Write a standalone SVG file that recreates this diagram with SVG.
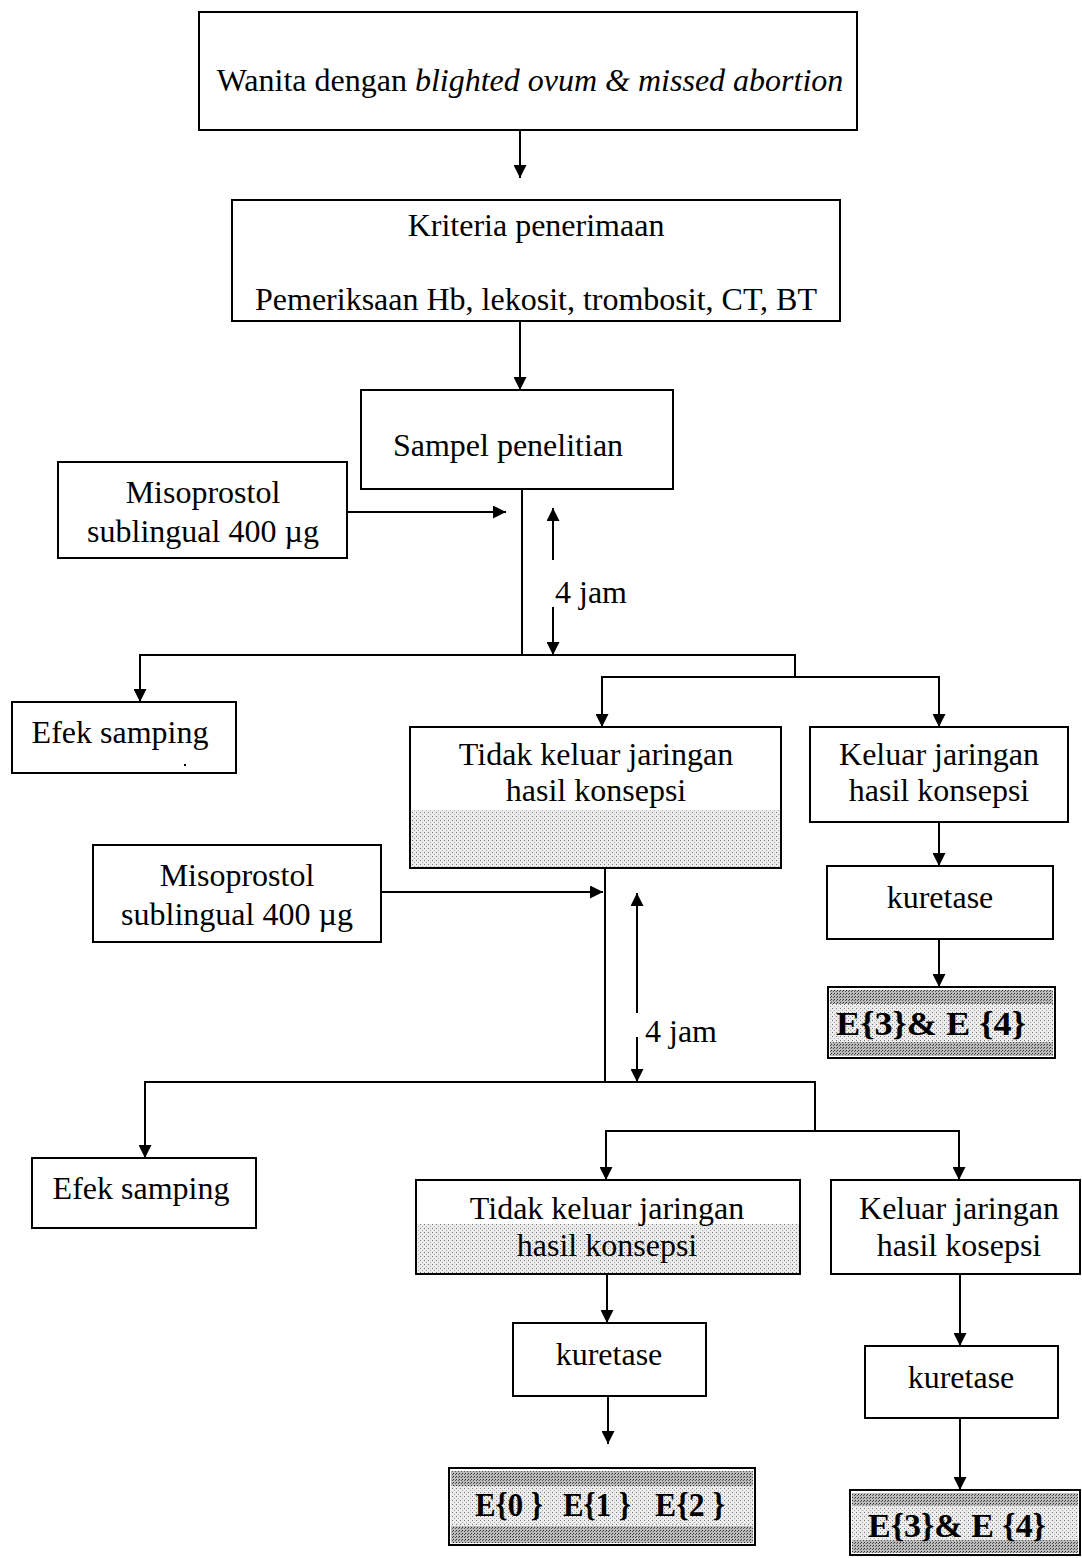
<svg xmlns="http://www.w3.org/2000/svg" width="1082" height="1558" viewBox="0 0 1082 1558">
<style>
.b{fill:#fff;stroke:#000;stroke-width:2}
.t{font-family:"Liberation Serif","Times New Roman",serif;font-size:32px;fill:#000;text-anchor:middle}
.e{font-family:"Liberation Serif","Times New Roman",serif;font-size:34px;font-weight:bold;fill:#000;text-anchor:start}
.c{fill:none;stroke:#000;stroke-width:2}
</style>
<defs>
<marker id="a" viewBox="0 0 10 10" refX="10" refY="5" markerWidth="15" markerHeight="13" markerUnits="userSpaceOnUse" orient="auto"><path d="M0,0L10,5L0,10z" fill="#000"/></marker>
<pattern id="dots" width="4" height="4" patternUnits="userSpaceOnUse"><rect width="4" height="4" fill="#ececec"/><rect x="0" y="0" width="1" height="1" fill="#777"/><rect x="2" y="2" width="1" height="1" fill="#aaa"/></pattern>
<pattern id="dk" width="3" height="3" patternUnits="userSpaceOnUse"><rect width="3" height="3" fill="#bbb"/><rect x="0" y="0" width="1" height="1" fill="#333"/><rect x="2" y="1" width="1" height="1" fill="#555"/></pattern>
</defs>

<g id="n1"><rect class="b" x="199" y="12" width="658" height="118"/><text class="t" x="530" y="91">Wanita dengan <tspan font-style="italic">blighted ovum &amp; missed abortion</tspan></text></g>
<g id="n2"><rect class="b" x="232" y="200" width="608" height="121"/><text class="t" x="536" y="236">Kriteria penerimaan</text><text class="t" x="536" y="310">Pemeriksaan Hb, lekosit, trombosit, CT, BT</text></g>
<g id="n3"><rect class="b" x="361" y="390" width="312" height="99"/><text class="t" x="508" y="456">Sampel penelitian</text></g>
<g id="n4"><rect class="b" x="58" y="462" width="289" height="96"/><text class="t" x="203" y="503">Misoprostol</text><text class="t" x="203" y="542">sublingual 400 µg</text></g>
<g id="n5"><rect class="b" x="12" y="702" width="224" height="71"/><text class="t" x="120" y="743">Efek samping</text><rect x="184" y="764" width="2" height="2" fill="#000"/></g>
<g id="n6"><rect class="b" x="410" y="727" width="371" height="141"/><rect x="411" y="810" width="369" height="57" fill="url(#dots)"/><text class="t" x="596" y="765">Tidak keluar jaringan</text><text class="t" x="596" y="801">hasil konsepsi</text></g>
<g id="n7"><rect class="b" x="810" y="727" width="258" height="95"/><text class="t" x="939" y="765">Keluar jaringan</text><text class="t" x="939" y="801">hasil konsepsi</text></g>
<g id="n8"><rect class="b" x="827" y="866" width="226" height="73"/><text class="t" x="940" y="908">kuretase</text></g>
<g id="n9"><rect class="b" x="828" y="987" width="227" height="71"/><rect x="830" y="990" width="223" height="14" fill="url(#dk)"/><rect x="830" y="1042" width="223" height="14" fill="url(#dk)"/><rect x="830" y="1004" width="223" height="38" fill="url(#dots)"/><text class="e" x="836" y="1035" textLength="190" lengthAdjust="spacingAndGlyphs">E{3}&amp; E {4}</text></g>
<g id="n10"><rect class="b" x="93" y="845" width="288" height="97"/><text class="t" x="237" y="886">Misoprostol</text><text class="t" x="237" y="925">sublingual 400 µg</text></g>
<g id="n11"><rect class="b" x="32" y="1158" width="224" height="70"/><text class="t" x="141" y="1199">Efek samping</text></g>
<g id="n12"><rect class="b" x="416" y="1180" width="384" height="94"/><rect x="417" y="1224" width="382" height="49" fill="url(#dots)"/><text class="t" x="607" y="1219">Tidak keluar jaringan</text><text class="t" x="607" y="1256">hasil konsepsi</text></g>
<g id="n13"><rect class="b" x="831" y="1180" width="249" height="94"/><text class="t" x="959" y="1219">Keluar jaringan</text><text class="t" x="959" y="1256">hasil kosepsi</text></g>
<g id="n14"><rect class="b" x="513" y="1323" width="193" height="73"/><text class="t" x="609" y="1365">kuretase</text></g>
<g id="n15"><rect class="b" x="449" y="1468" width="306" height="77"/><rect x="451" y="1471" width="302" height="15" fill="url(#dk)"/><rect x="451" y="1526" width="302" height="17" fill="url(#dk)"/><rect x="451" y="1486" width="302" height="40" fill="url(#dots)"/><text class="e" x="475" y="1516" textLength="68" lengthAdjust="spacingAndGlyphs">E{0 }</text><text class="e" x="563" y="1516" textLength="68" lengthAdjust="spacingAndGlyphs">E{1 }</text><text class="e" x="655" y="1516" textLength="70" lengthAdjust="spacingAndGlyphs">E{2 }</text></g>
<g id="n16"><rect class="b" x="865" y="1346" width="193" height="72"/><text class="t" x="961" y="1388">kuretase</text></g>
<g id="n17"><rect class="b" x="850" y="1490" width="230" height="65"/><rect x="852" y="1493" width="226" height="13" fill="url(#dk)"/><rect x="852" y="1540" width="226" height="13" fill="url(#dk)"/><rect x="852" y="1506" width="226" height="34" fill="url(#dots)"/><text class="e" x="868" y="1537" textLength="178" lengthAdjust="spacingAndGlyphs">E{3}&amp; E {4}</text></g>

<g id="connectors">
<line class="c" x1="520" y1="130" x2="520" y2="178" marker-end="url(#a)"/>
<line class="c" x1="520" y1="321" x2="520" y2="390" marker-end="url(#a)"/>
<line class="c" x1="347" y1="512" x2="506" y2="512" marker-end="url(#a)"/>
<line class="c" x1="522" y1="489" x2="522" y2="655"/>
<line class="c" x1="553" y1="560" x2="553" y2="508" marker-end="url(#a)"/>
<line class="c" x1="553" y1="607" x2="553" y2="655" marker-end="url(#a)"/>
<text class="t" x="555" y="603" style="text-anchor:start">4 jam</text>
<polyline class="c" points="140,702 140,655 795,655 795,677"/>
<line class="c" x1="140" y1="660" x2="140" y2="702" marker-end="url(#a)"/>
<polyline class="c" points="602,727 602,677 939,677 939,727"/>
<line class="c" x1="602" y1="680" x2="602" y2="727" marker-end="url(#a)"/>
<line class="c" x1="939" y1="680" x2="939" y2="727" marker-end="url(#a)"/>
<line class="c" x1="939" y1="822" x2="939" y2="866" marker-end="url(#a)"/>
<line class="c" x1="939" y1="939" x2="939" y2="987" marker-end="url(#a)"/>
<line class="c" x1="381" y1="892" x2="603" y2="892" marker-end="url(#a)"/>
<line class="c" x1="605" y1="868" x2="605" y2="1082"/>
<line class="c" x1="637" y1="1013" x2="637" y2="893" marker-end="url(#a)"/>
<line class="c" x1="637" y1="1037" x2="637" y2="1082" marker-end="url(#a)"/>
<text class="t" x="645" y="1042" style="text-anchor:start">4 jam</text>
<polyline class="c" points="145,1158 145,1082 815,1082 815,1131"/>
<line class="c" x1="145" y1="1090" x2="145" y2="1158" marker-end="url(#a)"/>
<polyline class="c" points="606,1180 606,1131 959,1131 959,1180"/>
<line class="c" x1="606" y1="1135" x2="606" y2="1180" marker-end="url(#a)"/>
<line class="c" x1="959" y1="1135" x2="959" y2="1180" marker-end="url(#a)"/>
<line class="c" x1="607" y1="1274" x2="607" y2="1323" marker-end="url(#a)"/>
<line class="c" x1="608" y1="1396" x2="608" y2="1444" marker-end="url(#a)"/>
<line class="c" x1="960" y1="1274" x2="960" y2="1346" marker-end="url(#a)"/>
<line class="c" x1="960" y1="1418" x2="960" y2="1490" marker-end="url(#a)"/>
</g>
</svg>
